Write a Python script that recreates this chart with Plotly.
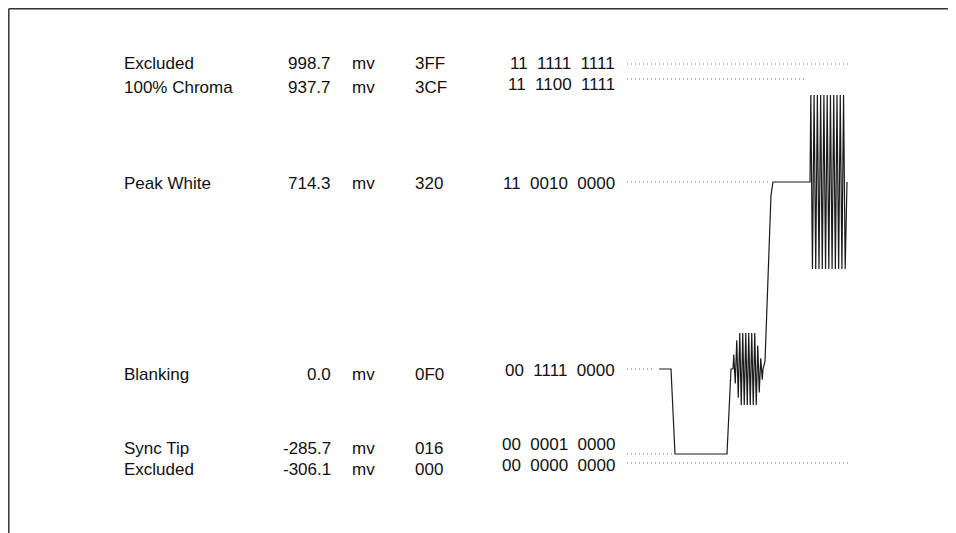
import numpy as np
import plotly.graph_objects as go

# ---------------- data ----------------
level_names = ["Excluded", "100% Chroma", "Peak White", "Blanking", "Sync Tip", "Excluded"]
level_mv = [998.7, 937.7, 714.3, 0.0, -285.7, -306.1]
level_hex = ["3FF", "3CF", "320", "0F0", "016", "000"]
level_bin = ["11  1111  1111", "11  1100  1111", "11  0010  0000",
             "00  1111  0000", "00  0001  0000", "00  0000  0000"]

# schematic waveform: (time, level index) vertices, bursts described separately
sync_t = [651, 663, 667, 719, 723, 725]
sync_lvl = [3, 3, 4, 4, 3, 3]
color_burst_env = [0.4, 0.8, 1.0, 1.0, 1.0, 1.0, 1.0, 1.0, 0.65, 0.3]
color_burst_amp = 36
rise_t = [755, 757, 763, 765, 802]
rise_frac = [0.0, 0.04, 0.93, 1.0, 1.0]   # fraction of way from blanking to peak white
chroma_cycles = 11
chroma_amp = 87

# ---------------- layout constants (figure px; page adds an 8px body margin) ----------------
W, H = 956, 533
row_y = [56, 71, 174, 361, 446, 455]           # schematic (not to scale) row of each level
label_y = [55, 79, 175, 366, 440, 461]
bin_y = [55, 76, 175, 362, 436, 457]
dot_end = [840, 797, 760, 647, 665, 840]
dot_start = 619
burst1 = (725, 755)
burst2 = (802, 838)
FONT = "Liberation Sans, Arial, Helvetica, sans-serif"
FS = 17

fig = go.Figure()

# dotted level guides
for i in range(len(level_mv)):
    fig.add_trace(go.Scatter(x=[dot_start, dot_end[i]], y=[row_y[i], row_y[i]], mode="lines",
                             line=dict(color="#777777", width=1, dash="1px,3px"),
                             hoverinfo="skip", showlegend=False))

# build waveform
wx, wy = [], []
for t, l in zip(sync_t, sync_lvl):
    wx.append(t); wy.append(row_y[l])
# color burst around blanking
n = len(color_burst_env)
P = (burst1[1] - burst1[0]) / n
for k, e in enumerate(color_burst_env):
    wx += [burst1[0] + P * (k + 0.25), burst1[0] + P * (k + 0.75)]
    wy += [row_y[3] - color_burst_amp * e, row_y[3] + color_burst_amp * e]
for t, f in zip(rise_t, rise_frac):
    wx.append(t); wy.append(row_y[3] + (row_y[2] - row_y[3]) * f)
# 100% chroma burst around peak white
P2 = (burst2[1] - burst2[0]) / chroma_cycles
for k in range(chroma_cycles):
    wx += [burst2[0] + P2 * (k + 0.25), burst2[0] + P2 * (k + 0.75)]
    wy += [row_y[2] - chroma_amp, row_y[2] + chroma_amp]
wx.append(burst2[1] + 1); wy.append(row_y[2])

fig.add_trace(go.Scatter(x=wx, y=wy, mode="lines", line=dict(color="#1a1a1a", width=1.2),
                         hoverinfo="skip", showlegend=False))

# text columns
for i in range(len(level_mv)):
    common = dict(xref="x", yref="y", showarrow=False, yanchor="middle",
                  font=dict(family=FONT, size=FS, color="#111111"))
    fig.add_annotation(x=114, y=label_y[i], text=level_names[i], xanchor="left", **common)
    fig.add_annotation(x=325, y=label_y[i], text=f"{level_mv[i]:.1f}", xanchor="right", **common)
    fig.add_annotation(x=342, y=label_y[i], text="mv", xanchor="left", **common)
    fig.add_annotation(x=405, y=label_y[i], text=level_hex[i], xanchor="left", **common)
    fig.add_annotation(x=609, y=bin_y[i], text=level_bin[i].replace("  ", "&nbsp;&nbsp;"),
                       xanchor="right", **common)

# frame (top and left edges)
fig.add_shape(type="line", xref="x", yref="y", x0=0.8, x1=W, y0=0.8, y1=0.8,
              line=dict(color="#333333", width=1.5))
fig.add_shape(type="line", xref="x", yref="y", x0=0.8, x1=0.8, y0=0.8, y1=H,
              line=dict(color="#333333", width=1.5))

fig.update_layout(width=W, height=H, margin=dict(l=0, r=0, t=0, b=0),
                  paper_bgcolor="white", plot_bgcolor="white",
                  xaxis=dict(range=[0, W], visible=False, fixedrange=True),
                  yaxis=dict(range=[H, 0], visible=False, fixedrange=True))

fig.write_html("out.html")
